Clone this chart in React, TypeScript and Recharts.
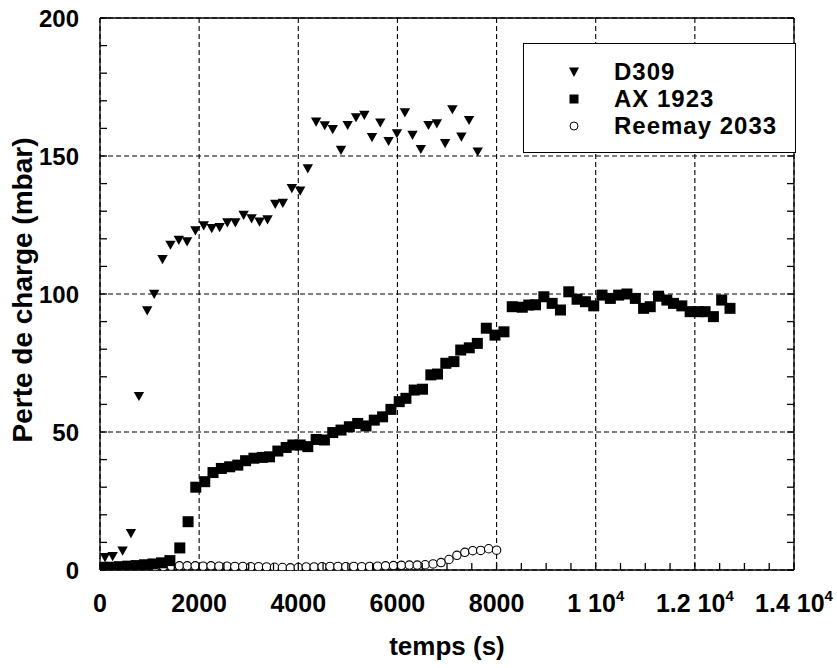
import React from 'react';
import { ScatterChart, Scatter, XAxis, YAxis, CartesianGrid, Legend, Label } from 'recharts';

const FONT = '"Liberation Sans", Arial, Helvetica, sans-serif';

// D309 — time (s), pressure drop (mbar)
const d309Time = [100, 255, 456, 624, 785, 952, 1093, 1261, 1422, 1590, 1757, 1925, 2093, 2254, 2414, 2569, 2730, 2897, 3058, 3219, 3380, 3535, 3688, 3870, 4038, 4192, 4360, 4534, 4695, 4862, 4996, 5165, 5332, 5487, 5654, 5821, 5990, 6151, 6304, 6472, 6626, 6795, 6962, 7109, 7290, 7445, 7619];
const d309Drop = [4.6, 5, 7, 13.3, 63, 94, 100, 112.6, 117.8, 119.6, 119, 123, 124.8, 123.8, 124.2, 125.9, 125.9, 128.6, 127.4, 126.2, 127, 132.6, 133, 138.3, 137.4, 145.5, 162.4, 161.1, 159.7, 152.2, 161.2, 164, 164.9, 156.8, 162.1, 155.4, 158.2, 165.8, 157.6, 152.5, 161.2, 161.8, 154.6, 166.9, 157, 163, 151.6];

// AX 1923
const axTime = [50, 220, 390, 560, 730, 900, 1070, 1240, 1410, 1610, 1777, 1932, 2113, 2280, 2448, 2616, 2780, 2937, 3105, 3273, 3420, 3588, 3756, 3890, 4038, 4192, 4360, 4527, 4695, 4862, 5030, 5198, 5366, 5533, 5701, 5869, 6036, 6171, 6338, 6506, 6674, 6808, 6976, 7140, 7277, 7450, 7612, 7793, 7968, 8149, 8316, 8518, 8650, 8786, 8954, 9121, 9289, 9457, 9624, 9792, 9960, 10127, 10295, 10463, 10630, 10799, 10966, 11100, 11268, 11435, 11569, 11737, 11905, 12072, 12207, 12374, 12541, 12709];
const axDrop = [1, 1, 1.2, 1.4, 1.6, 1.9, 2.2, 2.6, 3.4, 8, 17.5, 30, 32, 35.3, 36.8, 37.4, 38, 39.6, 40.5, 40.8, 41, 43.1, 44.4, 45.3, 45.3, 44.7, 47.3, 47.1, 49.8, 50.7, 51.9, 53.1, 52.2, 54.3, 55.5, 58.2, 61, 62.2, 65.2, 65.5, 70.7, 71, 74.9, 75.5, 79.7, 80.5, 82.1, 87.6, 85.1, 86.3, 95.4, 95.2, 96, 96.1, 99, 96.6, 94.2, 100.8, 98.1, 97.2, 95.7, 99.6, 98.4, 99.6, 100, 98.4, 94.8, 95.4, 99.2, 97.8, 96.6, 95.7, 93.6, 93.6, 93.6, 91.8, 97.8, 94.8];

// Reemay 2033
const reemayTime = [160, 320, 480, 640, 800, 960, 1120, 1280, 1440, 1600, 1760, 1920, 2080, 2240, 2400, 2560, 2720, 2880, 3040, 3200, 3360, 3520, 3680, 3840, 4000, 4160, 4320, 4480, 4640, 4800, 4960, 5120, 5280, 5440, 5600, 5760, 5920, 6080, 6240, 6400, 6560, 6720, 6880, 7040, 7200, 7360, 7520, 7680, 7840, 8000];
const reemayDrop = [1, 1, 1, 1.1, 1.1, 1.2, 1.2, 1.3, 1.4, 1.5, 1.5, 1.5, 1.4, 1.5, 1.4, 1.4, 1.3, 1.3, 1.2, 1.2, 1.1, 1, 0.9, 0.8, 0.9, 1.1, 1.1, 1.2, 1.3, 1.3, 1.2, 1.3, 1.2, 1.3, 1.4, 1.5, 1.6, 1.7, 1.8, 1.8, 1.9, 2.2, 2.7, 3.8, 5.3, 6.4, 7, 7.1, 7.7, 7.2];

const xTicks = [0, 2000, 4000, 6000, 8000, 10000, 12000, 14000];
const xMinorTicks = [0, 500, 1000, 1500, 2000, 2500, 3000, 3500, 4000, 4500, 5000, 5500, 6000, 6500, 7000, 7500, 8000, 8500, 9000, 9500, 10000, 10500, 11000, 11500, 12000, 12500, 13000, 13500, 14000];
const yTicks = [0, 50, 100, 150, 200];
const yMinorTicks = [0, 10, 20, 30, 40, 50, 60, 70, 80, 90, 100, 110, 120, 130, 140, 150, 160, 170, 180, 190, 200];

const toPoints = (ts: number[], vs: number[]) => ts.map((t, i) => ({ t, v: vs[i] }));
const d309Data = toPoints(d309Time, d309Drop);
const axData = toPoints(axTime, axDrop);
const reemayData = toPoints(reemayTime, reemayDrop);

const TICK_LEN = 7;
const X_LABEL_GAP = 42;
const Y_LABEL_GAP = 21;
const FRAME = { stroke: '#000', strokeWidth: 1.3 };

const DownTriangle = (p: any) => (
  <polygon points={`${p.cx - 5.2},${p.cy - 4.2} ${p.cx + 5.2},${p.cy - 4.2} ${p.cx},${p.cy + 5}`} fill="#000" />
);
const Square = (p: any) => <rect x={p.cx - 5.5} y={p.cy - 5.5} width={11} height={11} fill="#000" />;
const OpenCircle = (p: any) => <circle cx={p.cx} cy={p.cy} r={4.2} fill="#fff" stroke="#000" strokeWidth={1.1} />;

// bottom axis: inward tick at every minor step, label at majors ("m 10^4" above 10000)
function XTick({ x, y, payload }: any) {
  const v = payload.value;
  const base = y - X_LABEL_GAP;
  const common = { x, y, textAnchor: 'middle' as const, fontFamily: FONT, fontWeight: 'bold', fontSize: 25, fill: '#000' };
  let label = null;
  if (xTicks.includes(v)) {
    label =
      v < 10000 ? (
        <text {...common}>{String(v)}</text>
      ) : (
        <text {...common}>
          {`${v / 10000} 10`}
          <tspan fontSize={15} dy={-11}>4</tspan>
        </text>
      );
  }
  return (
    <g>
      <line x1={x} x2={x} y1={base} y2={base - TICK_LEN} {...FRAME} />
      {label}
    </g>
  );
}

function YTick({ x, y, payload }: any) {
  const v = payload.value;
  const base = x + Y_LABEL_GAP;
  return (
    <g>
      <line x1={base} x2={base + TICK_LEN} y1={y} y2={y} {...FRAME} />
      {yTicks.includes(v) && (
        <text x={x} y={y + 8.5} textAnchor="end" fontFamily={FONT} fontWeight="bold" fontSize={24} fill="#000">
          {v}
        </text>
      )}
    </g>
  );
}

const TopTick = ({ x, y }: any) => <line x1={x} x2={x} y1={y} y2={y + TICK_LEN} {...FRAME} />;
const RightTick = ({ x, y }: any) => <line x1={x} x2={x - TICK_LEN} y1={y} y2={y} {...FRAME} />;

const legendRows = [
  { name: 'D309', marker: <polygon points="-5,-4.5 5,-4.5 0,5" fill="#000" /> },
  { name: 'AX 1923', marker: <rect x={-4.5} y={-4.5} width={9} height={9} fill="#000" /> },
  { name: 'Reemay 2033', marker: <circle r={4} fill="#fff" stroke="#000" strokeWidth={1} /> },
];

function LegendBox() {
  return (
    <div
      style={{
        width: 273,
        height: 110,
        border: '1px solid #000',
        background: '#fff',
        boxSizing: 'border-box',
        paddingTop: 14,
        fontFamily: FONT,
      }}
    >
      {legendRows.map((r) => (
        <div key={r.name} style={{ height: 27, display: 'flex', alignItems: 'center' }}>
          <svg width={20} height={20} viewBox="-10 -10 20 20" style={{ marginLeft: 40, marginRight: 30 }}>
            {r.marker}
          </svg>
          <span style={{ fontSize: 24, fontWeight: 'bold', letterSpacing: 1, color: '#000' }}>{r.name}</span>
        </div>
      ))}
    </div>
  );
}

export default function App() {
  return (
    <div style={{ position: 'absolute', left: 0, top: 0, background: '#fff' }}>
      <ScatterChart width={837} height={668} margin={{ top: 17, right: 42, bottom: 38, left: 40 }}>
        <CartesianGrid
          stroke="#000"
          strokeWidth={1.1}
          strokeDasharray="5 3"
          verticalValues={xTicks}
          horizontalValues={yTicks}
        />

        <XAxis
          type="number"
          dataKey="t"
          domain={[0, 14000]}
          allowDataOverflow
          ticks={xMinorTicks}
          interval={0}
          tick={<XTick />}
          tickLine={false}
          axisLine={FRAME}
          tickSize={0}
          tickMargin={X_LABEL_GAP}
          height={60}
        >
          <Label
            content={(props: any) => {
              const vb = props.viewBox;
              return (
                <text x={vb.x + vb.width / 2} y={vb.y + 85} textAnchor="middle" fontFamily={FONT} fontWeight="bold" fontSize={26} fill="#000">
                  temps (s)
                </text>
              );
            }}
          />
        </XAxis>
        <YAxis
          type="number"
          dataKey="v"
          domain={[0, 200]}
          allowDataOverflow
          ticks={yMinorTicks}
          interval={0}
          tick={<YTick />}
          tickLine={false}
          axisLine={FRAME}
          tickSize={0}
          tickMargin={Y_LABEL_GAP}
          width={60}
        >
          <Label
            content={(props: any) => {
              const vb = props.viewBox;
              const cx = vb.x - 8;
              const cy = vb.y + vb.height / 2 - 4;
              return (
                <text transform={`translate(${cx},${cy}) rotate(-90)`} textAnchor="middle" fontFamily={FONT} fontWeight="bold" fontSize={28} fill="#000">
                  Perte de charge (mbar)
                </text>
              );
            }}
          />
        </YAxis>

        {/* top and right edges of the frame, inward ticks */}
        <XAxis xAxisId="top" orientation="top" type="number" domain={[0, 14000]} allowDataOverflow ticks={xMinorTicks} interval={0} tick={<TopTick />} tickLine={false} axisLine={FRAME} tickSize={0} tickMargin={0} height={1} />
        <YAxis yAxisId="right" orientation="right" type="number" domain={[0, 200]} allowDataOverflow ticks={yMinorTicks} interval={0} tick={<RightTick />} tickLine={false} axisLine={FRAME} tickSize={0} tickMargin={0} width={1} />

        <Scatter name="Reemay 2033" data={reemayData} shape={OpenCircle} isAnimationActive={false} />
        <Scatter name="AX 1923" data={axData} shape={Square} isAnimationActive={false} />
        <Scatter name="D309" data={d309Data} shape={DownTriangle} isAnimationActive={false} />

        <Legend
          layout="vertical"
          align="center"
          verticalAlign="middle"
          content={() => <LegendBox />}
          wrapperStyle={{ position: 'absolute', left: 523, top: 43, width: 273, height: 110 }}
        />
      </ScatterChart>
    </div>
  );
}
